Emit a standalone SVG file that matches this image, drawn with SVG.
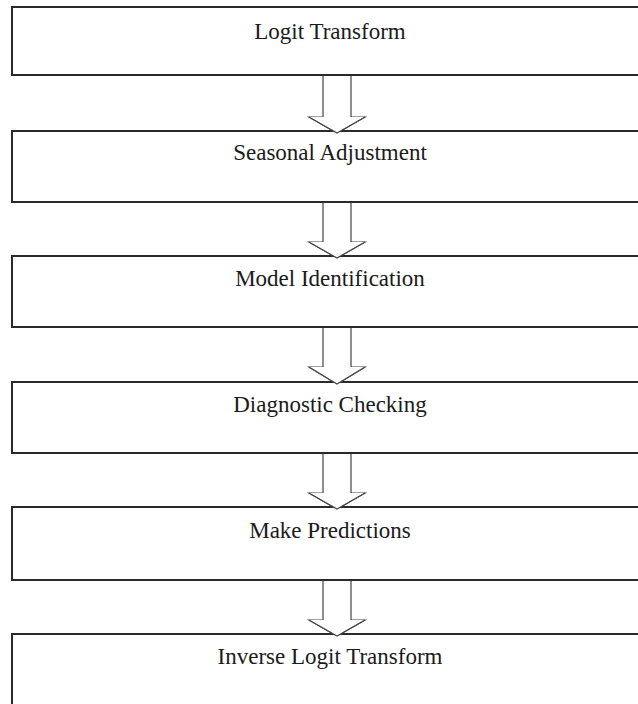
<svg xmlns="http://www.w3.org/2000/svg" width="638" height="704" viewBox="0 0 638 704">
<style>
.box{fill:#fff;stroke:#2a2a2a;stroke-width:2}
.lbl{font-family:"Liberation Serif","Times New Roman",serif;font-size:23px;fill:#1a1a1a;text-anchor:middle}
.arr{fill:#fff;stroke:#444;stroke-width:1.2;stroke-linejoin:miter}
</style>
<rect width="638" height="704" fill="#fff"/>
<g id="connectors">
<path class="arr" d="M323,76 V117 H309 L337,133 L365,117 H351 V76"/>
<path class="arr" d="M323,202 V242 H309 L337,258 L365,242 H351 V202"/>
<path class="arr" d="M323,327 V367 H309 L337,384 L365,367 H351 V327"/>
<path class="arr" d="M323,453 V493 H309 L337,509 L365,493 H351 V453"/>
<path class="arr" d="M323,580 V620 H309 L337,636 L365,620 H351 V580"/>
</g>
<g id="n1"><rect class="box" x="12" y="7" width="640" height="68"/><text class="lbl" x="330" y="39">Logit Transform</text></g>
<g id="n2"><rect class="box" x="12" y="131" width="640" height="71"/><text class="lbl" x="330" y="160">Seasonal Adjustment</text></g>
<g id="n3"><rect class="box" x="12" y="256" width="640" height="71"/><text class="lbl" x="330" y="286">Model Identification</text></g>
<g id="n4"><rect class="box" x="12" y="382" width="640" height="71"/><text class="lbl" x="330" y="412">Diagnostic Checking</text></g>
<g id="n5"><rect class="box" x="12" y="507" width="640" height="73"/><text class="lbl" x="330" y="538">Make Predictions</text></g>
<g id="n6"><rect class="box" x="12" y="634" width="640" height="90"/><text class="lbl" x="330" y="664">Inverse Logit Transform</text></g>
<g id="connectors-over">
<path class="arr" d="M309,117 L337,133 L365,117" fill="none"/>
<path class="arr" d="M309,242 L337,258 L365,242" fill="none"/>
<path class="arr" d="M309,367 L337,384 L365,367" fill="none"/>
<path class="arr" d="M309,493 L337,509 L365,493" fill="none"/>
<path class="arr" d="M309,620 L337,636 L365,620" fill="none"/>
</g>
</svg>
